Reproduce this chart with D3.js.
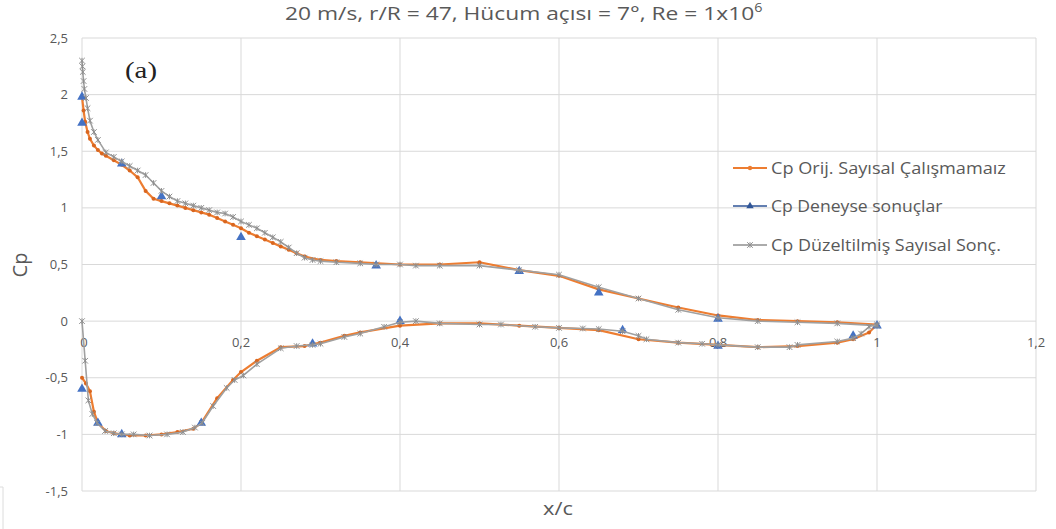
<!DOCTYPE html>
<html>
<head>
<meta charset="utf-8">
<script src="https://cdn.jsdelivr.net/npm/d3@7"></script>
<style>
	body { margin: 0; background: #fff; }
	svg { display: block; font-family: 'Open Sans', 'Noto Sans', sans-serif; }
	.tick-label { fill: #595959; font-size: 13px; }
</style>
</head>
<body>
<svg id="chart" width="1056" height="529"></svg>
<script>
// Cp Orij. Sayısal Çalışmamaız (orange)
const origUpperX = [0, 0.002, 0.004, 0.007, 0.01, 0.015, 0.02, 0.025, 0.03, 0.04, 0.05, 0.06, 0.07, 0.08, 0.09, 0.1, 0.11, 0.12, 0.13, 0.14, 0.15, 0.16, 0.17, 0.18, 0.19, 0.2, 0.21, 0.22, 0.23, 0.24, 0.25, 0.26, 0.27, 0.28, 0.3, 0.32, 0.35, 0.4, 0.45, 0.5, 0.55, 0.6, 0.65, 0.7, 0.75, 0.8, 0.85, 0.9, 0.95, 1.0];
const origUpperCp = [1.98, 1.86, 1.76, 1.67, 1.61, 1.55, 1.51, 1.48, 1.46, 1.42, 1.38, 1.33, 1.27, 1.15, 1.08, 1.06, 1.04, 1.02, 1.0, 0.98, 0.96, 0.94, 0.91, 0.88, 0.85, 0.82, 0.78, 0.75, 0.72, 0.69, 0.66, 0.63, 0.6, 0.57, 0.54, 0.53, 0.52, 0.5, 0.5, 0.52, 0.45, 0.4, 0.28, 0.2, 0.12, 0.05, 0.01, 0.0, -0.01, -0.03];
const origLowerX = [0, 0.005, 0.01, 0.015, 0.02, 0.03, 0.04, 0.05, 0.06, 0.08, 0.1, 0.12, 0.14, 0.15, 0.17, 0.19, 0.2, 0.22, 0.25, 0.28, 0.3, 0.33, 0.35, 0.4, 0.45, 0.5, 0.55, 0.6, 0.65, 0.7, 0.75, 0.8, 0.85, 0.9, 0.95, 0.97, 0.99, 1.0];
const origLowerCp = [-0.5, -0.55, -0.62, -0.8, -0.9, -0.97, -0.99, -1.0, -1.01, -1.01, -1.0, -0.98, -0.95, -0.9, -0.68, -0.52, -0.45, -0.35, -0.23, -0.22, -0.19, -0.13, -0.1, -0.04, -0.02, -0.02, -0.04, -0.06, -0.08, -0.16, -0.19, -0.21, -0.23, -0.22, -0.19, -0.16, -0.1, -0.03];

// Cp Deneyse sonuçlar (blue triangles)
const expX = [0, 0, 0.05, 0.1, 0.2, 0.37, 0.55, 0.65, 0.8, 1.0, 0, 0.02, 0.05, 0.15, 0.29, 0.4, 0.68, 0.8, 0.97];
const expCp = [1.98, 1.75, 1.39, 1.1, 0.74, 0.49, 0.44, 0.25, 0.02, -0.04, -0.6, -0.9, -1.0, -0.9, -0.2, 0.0, -0.08, -0.22, -0.13];

// Cp Düzeltilmiş Sayısal Sonç. (gray)
const corrUpperX = [0, 0.0005, 0.001, 0.002, 0.003, 0.005, 0.007, 0.01, 0.015, 0.02, 0.03, 0.04, 0.05, 0.06, 0.07, 0.08, 0.09, 0.1, 0.11, 0.12, 0.13, 0.14, 0.15, 0.16, 0.17, 0.18, 0.19, 0.2, 0.21, 0.22, 0.23, 0.24, 0.25, 0.26, 0.27, 0.28, 0.29, 0.3, 0.32, 0.35, 0.37, 0.4, 0.42, 0.45, 0.5, 0.55, 0.6, 0.65, 0.7, 0.75, 0.8, 0.85, 0.9, 0.95, 1.0];
const corrUpperCp = [2.3, 2.25, 2.2, 2.12, 2.05, 1.97, 1.88, 1.77, 1.67, 1.6, 1.49, 1.45, 1.41, 1.37, 1.33, 1.29, 1.22, 1.15, 1.1, 1.06, 1.04, 1.02, 1.0, 0.98, 0.96, 0.95, 0.92, 0.88, 0.85, 0.82, 0.78, 0.74, 0.7, 0.65, 0.6, 0.56, 0.54, 0.53, 0.52, 0.51, 0.5, 0.5, 0.49, 0.49, 0.49, 0.45, 0.41, 0.3, 0.2, 0.1, 0.03, 0.0, -0.01, -0.02, -0.04];
const corrLowerX = [0, 0.004, 0.008, 0.013, 0.019, 0.029, 0.04, 0.05, 0.065, 0.085, 0.107, 0.127, 0.142, 0.151, 0.165, 0.182, 0.192, 0.203, 0.22, 0.25, 0.27, 0.29, 0.3, 0.33, 0.35, 0.38, 0.4, 0.42, 0.45, 0.5, 0.527, 0.57, 0.6, 0.63, 0.65, 0.68, 0.7, 0.71, 0.75, 0.78, 0.8, 0.85, 0.89, 0.9, 0.95, 0.97, 0.98, 0.99, 1.0];
const corrLowerCp = [0, -0.35, -0.7, -0.82, -0.9, -0.97, -0.99, -1.0, -1.0, -1.01, -1.0, -0.98, -0.94, -0.9, -0.75, -0.59, -0.52, -0.48, -0.38, -0.24, -0.22, -0.21, -0.2, -0.14, -0.11, -0.05, -0.01, 0.0, -0.02, -0.03, -0.03, -0.05, -0.06, -0.065, -0.07, -0.09, -0.13, -0.16, -0.19, -0.2, -0.21, -0.23, -0.23, -0.21, -0.18, -0.15, -0.11, -0.05, -0.03];

const xTicks = [0, 0.2, 0.4, 0.6, 0.8, 1, 1.2];
const yTicks = [2.5, 2, 1.5, 1, 0.5, 0, -0.5, -1, -1.5];
const seriesNames = ['Cp Orij. Sayısal Çalışmamaız', 'Cp Deneyse sonuçlar', 'Cp Düzeltilmiş Sayısal Sonç.'];
const titleText = '20 m/s, r/R = 47, Hücum açısı = 7°, Re = 1x10';

const colors = { orig: '#ED7D31', exp: '#4472C4', corr: '#A0A0A0' };

const svg = d3.select('#chart');
const x = d3.scaleLinear().domain([0, 1.2]).range([82, 1036]);
const y = d3.scaleLinear().domain([-1.5, 2.5]).range([491, 38]);
const fmt = function(v) { return String(v).replace('.', ','); };

function toPoints(xs, ys) {
	return xs.map(function(v, i) { return [v, ys[i]]; });
}

// the picture is a bit wider than tall, so texts are stretched sideways to a target width
function fitWidth(textSel, left, baseline, width) {
	let natural = textSel.node().getBBox().width;
	textSel.attr('x', 0).attr('y', 0)
		.attr('transform', 'translate(' + left + ',' + baseline + ') scale(' + (width / natural) + ',1)');
}

// one path round the profile: lower surface LE -> TE, then upper TE -> LE
let origPoints = toPoints(origLowerX, origLowerCp).concat(toPoints(origUpperX, origUpperCp).reverse());
let corrPoints = toPoints(corrLowerX, corrLowerCp).concat(toPoints(corrUpperX, corrUpperCp).reverse());
let expPoints = toPoints(expX, expCp);

// gridlines
svg.append('g')
	.selectAll('line')
	.data(yTicks)
	.join('line')
	.attr('x1', x(0)).attr('x2', x(1.2))
	.attr('y1', d => y(d)).attr('y2', d => y(d))
	.style('stroke', '#d9d9d9').style('stroke-width', 1);

svg.append('g')
	.selectAll('line')
	.data(xTicks)
	.join('line')
	.attr('x1', d => x(d)).attr('x2', d => x(d))
	.attr('y1', y(2.5)).attr('y2', y(-1.5))
	.style('stroke', '#d9d9d9').style('stroke-width', 1);

// tick labels
svg.append('g')
	.selectAll('text')
	.data(yTicks)
	.join('text')
	.attr('class', 'tick-label')
	.attr('x', 68)
	.attr('y', d => y(d))
	.attr('dy', '0.35em')
	.attr('text-anchor', 'end')
	.text(fmt);

svg.append('g')
	.selectAll('text')
	.data(xTicks)
	.join('text')
	.attr('class', 'tick-label')
	.attr('x', d => x(d) + (d == 0 ? 2 : 0))
	.attr('y', y(0) + 26)
	.attr('text-anchor', 'middle')
	.text(fmt);

// series
let line = d3.line().x(d => x(d[0])).y(d => y(d[1]));

svg.append('path')
	.datum(origPoints)
	.attr('d', line)
	.style('fill', 'none')
	.style('stroke', colors.orig)
	.style('stroke-width', 2.2)
	.style('stroke-linejoin', 'round');

svg.append('g')
	.selectAll('circle')
	.data(origPoints)
	.join('circle')
	.attr('cx', d => x(d[0]))
	.attr('cy', d => y(d[1]))
	.attr('r', 2)
	.style('fill', '#d9661f');

let triangle = d3.symbol().type(d3.symbolTriangle).size(40);

svg.append('g')
	.selectAll('path')
	.data(expPoints)
	.join('path')
	.attr('d', triangle)
	.attr('transform', d => 'translate(' + x(d[0]) + ',' + y(d[1]) + ')')
	.style('fill', colors.exp);

svg.append('path')
	.datum(corrPoints)
	.attr('d', line)
	.style('fill', 'none')
	.style('stroke', colors.corr)
	.style('stroke-width', 1.6)
	.style('stroke-linejoin', 'round');

function starPath(s) {
	return 'M' + -s + ',' + -s + 'L' + s + ',' + s +
		'M' + -s + ',' + s + 'L' + s + ',' + -s +
		'M0,' + -s + 'L0,' + s;
}

svg.append('g')
	.selectAll('path')
	.data(corrPoints)
	.join('path')
	.attr('d', starPath(2.8))
	.attr('transform', d => 'translate(' + x(d[0]) + ',' + y(d[1]) + ')')
	.style('fill', 'none')
	.style('stroke', '#8f8f8f')
	.style('stroke-width', 1);

// legend
let legendX = 733;
let legendY = [168, 206, 245];
let legendWidths = [235, 172, 230];
let legend = svg.append('g');

seriesNames.forEach(function(name, i) {
	let cy = legendY[i];
	let color = [colors.orig, '#2f5597', '#8f8f8f'][i];

	legend.append('line')
		.attr('x1', legendX).attr('x2', legendX + 34)
		.attr('y1', cy).attr('y2', cy)
		.style('stroke', color)
		.style('stroke-width', i == 0 ? 2.2 : 1.5);

	let mx = legendX + 17;
	if (i == 0)
		legend.append('circle').attr('cx', mx).attr('cy', cy).attr('r', 2.2).style('fill', color);
	if (i == 1)
		legend.append('path').attr('d', d3.symbol().type(d3.symbolTriangle).size(24))
			.attr('transform', 'translate(' + mx + ',' + cy + ')').style('fill', color);
	if (i == 2)
		legend.append('path').attr('d', starPath(2.8))
			.attr('transform', 'translate(' + mx + ',' + cy + ')')
			.style('stroke', color).style('fill', 'none');

	let label = legend.append('text')
		.style('fill', '#595959')
		.style('font-size', '16px')
		.text(name);
	fitWidth(label, legendX + 38, cy + 6, legendWidths[i]);
});

// title
let title = svg.append('text')
	.style('fill', '#595959')
	.style('font-size', '19px')
	.text(titleText);
title.append('tspan')
	.attr('dy', -8)
	.style('font-size', '12px')
	.text('6');
fitWidth(title, 285, 20, 478);

// axis titles
svg.append('text')
	.attr('transform', 'translate(27,265) rotate(-90)')
	.attr('text-anchor', 'middle')
	.style('fill', '#595959')
	.style('font-size', '20px')
	.text('Cp');

let xTitle = svg.append('text')
	.style('fill', '#595959')
	.style('font-size', '19px')
	.text('x/c');
fitWidth(xTitle, 543, 515, 30);

// panel label
let panelLabel = svg.append('text')
	.style('font-family', "'Liberation Serif', serif")
	.style('font-size', '23px')
	.style('fill', '#222')
	.text('(a)');
fitWidth(panelLabel, 125, 78, 32);

// frame fragment at the lower left edge
svg.append('path')
	.attr('d', 'M0,487L3,487L3,529')
	.style('fill', 'none')
	.style('stroke', '#dcdcdc');
</script>
</body>
</html>
